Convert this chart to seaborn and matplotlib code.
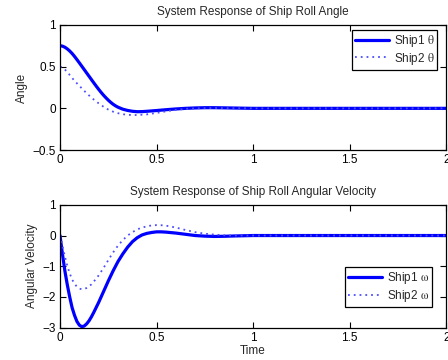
import numpy as np
import pandas as pd
import matplotlib
matplotlib.use("Agg")
import matplotlib.pyplot as plt
import seaborn as sns

# ---- data ----
t_ang1 = [0, 0.0125, 0.025, 0.0375, 0.05, 0.0625, 0.075, 0.0875, 0.1, 0.1125, 0.125, 0.1375,
          0.15, 0.1625, 0.175, 0.1875, 0.2, 0.2125, 0.225, 0.2375, 0.25, 0.2625, 0.275, 0.2875,
          0.3, 0.325, 0.35, 0.375, 0.4, 0.425, 0.45, 0.5, 0.55, 0.6, 0.65, 0.7, 0.75, 0.8,
          0.9, 1.0, 1.2, 2.0]
ship1_theta = [0.75, 0.745, 0.732, 0.712, 0.687, 0.657, 0.622, 0.584, 0.545, 0.505, 0.465,
               0.425, 0.385, 0.345, 0.305, 0.266, 0.228, 0.192, 0.158, 0.127, 0.098, 0.072,
               0.049, 0.03, 0.014, -0.01, -0.025, -0.035, -0.04, -0.039, -0.035, -0.026,
               -0.016, -0.007, 0.0, 0.005, 0.008, 0.008, 0.004, 0.0, 0.0, 0.0]

t_ang2 = [0, 0.0125, 0.025, 0.0375, 0.05, 0.0625, 0.075, 0.0875, 0.1, 0.125, 0.15, 0.175,
          0.2, 0.225, 0.25, 0.275, 0.3, 0.325, 0.35, 0.375, 0.4, 0.45, 0.5, 0.55, 0.6, 0.65,
          0.7, 0.8, 0.9, 1.0, 2.0]
ship2_theta = [0.50, 0.49, 0.465, 0.435, 0.40, 0.365, 0.33, 0.30, 0.27, 0.21, 0.155, 0.105,
               0.06, 0.02, -0.015, -0.04, -0.058, -0.07, -0.077, -0.08, -0.08, -0.072, -0.055,
               -0.035, -0.018, -0.006, 0.0, 0.004, 0.002, 0.0, 0.0]

t_vel = [0, 0.005, 0.0125, 0.025, 0.0375, 0.05, 0.0625, 0.075, 0.0875, 0.1, 0.1125, 0.125,
         0.1375, 0.15, 0.1625, 0.175, 0.2, 0.225, 0.25, 0.275, 0.3, 0.325, 0.35, 0.375, 0.4,
         0.425, 0.45, 0.475, 0.5, 0.525, 0.55, 0.6, 0.65, 0.7, 0.75, 0.8, 0.85, 0.9, 1.0, 2.0]
ship1_omega = [0, -0.25, -0.6, -1.15, -1.6, -2.0, -2.35, -2.6, -2.8, -2.92, -2.97, -2.95,
               -2.88, -2.78, -2.65, -2.5, -2.18, -1.83, -1.48, -1.15, -0.85, -0.6, -0.38,
               -0.2, -0.07, 0.02, 0.07, 0.1, 0.12, 0.12, 0.11, 0.08, 0.04, 0.0, -0.02, -0.03,
               -0.025, -0.015, 0.0, 0.0]
ship2_omega = [0, -0.12, -0.33, -0.68, -0.98, -1.23, -1.43, -1.57, -1.67, -1.73, -1.75, -1.74,
               -1.71, -1.66, -1.59, -1.5, -1.3, -1.06, -0.8, -0.55, -0.33, -0.15, 0.0, 0.11,
               0.2, 0.26, 0.3, 0.33, 0.34, 0.335, 0.32, 0.26, 0.18, 0.11, 0.06, 0.03, 0.01,
               0.0, 0.0, 0.0]

x_ticks = [0, 0.5, 1, 1.5, 2]
x_ticklabels = ["0", "0.5", "1", "1.5", "2"]
ang_ticks = [-0.5, 0, 0.5, 1]
ang_ticklabels = ["\u22120.5", "0", "0.5", "1"]
vel_ticks = [-3, -2, -1, 0, 1]
vel_ticklabels = ["\u22123", "\u22122", "\u22121", "0", "1"]

sns.set_theme(style="white")
plt.rcParams["font.family"] = ["Liberation Sans", "DejaVu Sans"]
plt.rcParams["mathtext.fontset"] = "stix"
FS = 8.5
plt.rcParams["font.size"] = FS

fig = plt.figure(figsize=(4.48, 3.6), dpi=100)
ax1 = fig.add_axes([0.134, 0.583, 0.862, 0.348])
ax2 = fig.add_axes([0.134, 0.090, 0.862, 0.341])

SOLID = "#0000ff"
DOT = "#4d4dff"

d1 = pd.DataFrame({"t": t_ang1, "v": ship1_theta})
d2 = pd.DataFrame({"t": t_ang2, "v": ship2_theta})
sns.lineplot(data=d1, x="t", y="v", ax=ax1, label=r"Ship1 $\mathrm{\theta}$",
             color=SOLID, linewidth=2.3)
sns.lineplot(data=d2, x="t", y="v", ax=ax1, label=r"Ship2 $\mathrm{\theta}$",
             color=DOT, linewidth=1.3)
ax1.lines[1].set_dashes((1, 2.2))

d3 = pd.DataFrame({"t": t_vel, "v": ship1_omega})
d4 = pd.DataFrame({"t": t_vel, "v": ship2_omega})
sns.lineplot(data=d3, x="t", y="v", ax=ax2, label=r"Ship1 $\mathrm{\omega}$",
             color=SOLID, linewidth=2.3)
sns.lineplot(data=d4, x="t", y="v", ax=ax2, label=r"Ship2 $\mathrm{\omega}$",
             color=DOT, linewidth=1.3)
ax2.lines[1].set_dashes((1, 2.2))

for ax in (ax1, ax2):
    ax.set_xlim(0, 2)
    ax.set_xticks(x_ticks)
    ax.set_xticklabels(x_ticklabels)
    ax.tick_params(direction="in", length=4, width=0.8, top=True, right=True,
                   bottom=True, left=True, labelsize=FS, colors="black", pad=3)
    for s in ax.spines.values():
        s.set_visible(True)
        s.set_color("black")
        s.set_linewidth(0.9)
    ax.set_facecolor("white")

ax1.set_ylim(-0.5, 1)
ax1.set_yticks(ang_ticks)
ax1.set_yticklabels(ang_ticklabels)
ax1.set_xlabel("")
ax1.set_ylabel("Angle", fontsize=FS, labelpad=3)
ax1.set_title("System Response of Ship Roll Angle", fontsize=FS, pad=7)

ax2.set_ylim(-3, 1)
ax2.set_yticks(vel_ticks)
ax2.set_yticklabels(vel_ticklabels)
ax2.set_xlabel("Time", fontsize=FS, labelpad=1)
ax2.set_ylabel("Angular Velocity", fontsize=FS, labelpad=3)
ax2.set_title("System Response of Ship Roll Angular Velocity", fontsize=FS, pad=7)

for ax, loc, anchor in ((ax1, "upper right", (0.977, 0.96)),
                        (ax2, "lower right", (0.964, 0.169))):
    leg = ax.legend(loc=loc, bbox_to_anchor=anchor, fontsize=FS, frameon=True,
                    fancybox=False, handlelength=2.9, borderaxespad=0.0,
                    borderpad=0.25, labelspacing=0.15, handletextpad=0.4)
    fr = leg.get_frame()
    fr.set_edgecolor("black")
    fr.set_linewidth(0.9)
    fr.set_alpha(1)

fig.savefig("out.png", dpi=100, facecolor="white")
